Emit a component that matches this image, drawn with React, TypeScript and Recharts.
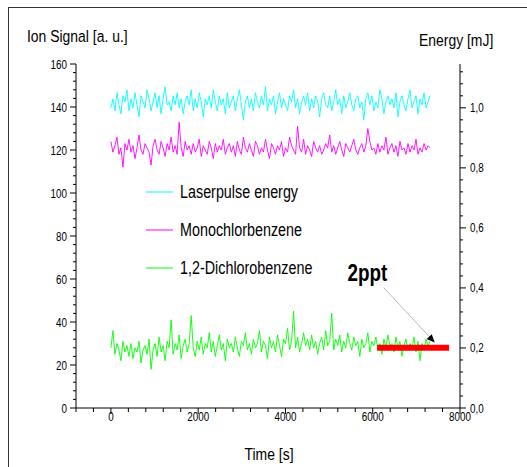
import React from 'react';
import { LineChart, Line, XAxis, YAxis, Legend, ReferenceDot } from 'recharts';

// Laserpulse energy [mJ], right axis
const laserEnergy = [
  1.00, 1.03, 0.99, 1.05, 1.01, 0.98, 1.04, 1.02, 1.06, 0.99,
  1.03, 1.00, 1.05, 1.01, 0.97, 1.04, 1.02, 1.00, 1.06, 1.03,
  0.99, 1.02, 1.05, 1.00, 1.04, 0.98, 1.03, 1.07, 1.01, 1.02,
  0.99, 1.04, 1.01, 1.05, 1.00, 1.03, 0.98, 1.02, 1.04, 1.01,
  1.06, 0.99, 1.03, 1.00, 1.05, 1.02, 0.97, 1.03, 1.01, 1.04,
  1.00, 1.06, 1.02, 0.99, 1.04, 1.01, 1.03, 0.98, 1.05, 1.00,
  1.02, 1.04, 0.99, 1.03, 1.06, 1.01, 0.96, 1.02, 1.04, 1.00,
  1.03, 0.99, 1.05, 1.02, 1.00, 1.04, 1.01, 1.07, 0.99, 1.03,
  1.01, 1.04, 0.98, 1.02, 1.05, 1.00, 1.03, 1.01, 0.99, 1.04,
  1.02, 1.06, 1.00, 1.03, 0.98, 1.02, 1.04, 1.01, 1.05, 0.99,
  1.03, 1.00, 1.04, 1.02, 0.97, 1.03, 1.05, 1.01, 1.00, 1.04,
  0.99, 1.02, 1.06, 1.01, 1.03, 0.98, 1.04, 1.00, 1.02, 1.05,
  1.01, 0.99, 1.03, 1.04, 1.00, 1.02, 0.96, 1.03, 1.05, 1.01,
  1.04, 0.99, 1.02, 1.00, 1.06, 1.03, 0.98, 1.02, 1.04, 1.01,
  1.03, 1.00, 1.05, 0.97, 1.02, 1.04, 1.01, 0.99, 1.03, 1.06,
  1.00, 1.02, 1.04, 0.98, 1.03, 1.01, 1.05, 1.00, 1.02, 1.04,
];

// Monochlorbenzene ion signal [a. u.]
const monochlor = [
  124, 119, 122, 126, 118, 121, 112, 123, 120, 125,
  119, 122, 116, 121, 127, 120, 118, 123, 121, 119,
  113, 122, 125, 120, 118, 124, 121, 117, 123, 120,
  126, 119, 122, 118, 133, 121, 117, 124, 120, 122,
  118, 123, 119, 121, 125, 117, 122, 120, 118, 124,
  121, 116, 123, 119, 122, 120, 125, 118, 121, 123,
  119, 122, 117, 124, 120, 118, 126, 121, 119, 123,
  120, 117, 124, 122, 118, 121, 119, 125, 120, 116,
  123, 121, 118, 122, 120, 124, 117, 121, 119, 126,
  122, 120, 118, 131, 121, 119, 125, 118, 122, 120,
  117, 124, 121, 119, 122, 118, 120, 123, 121, 127,
  119, 122, 118, 121, 124, 120, 117, 123, 121, 119,
  122, 125, 120, 118, 121, 123, 119, 122, 130, 124,
  120, 121, 118, 123, 119, 122, 120, 126, 118, 121,
  123, 119, 122, 117, 124, 120, 121, 118, 123, 119,
  122, 120, 125, 118, 121, 119, 123, 120, 122, 121,
];

// 1,2-Dichlorobenzene ion signal [a. u.]
const dichloro = [
  28, 36, 25, 30, 27, 22, 31, 26, 29, 24,
  30, 23, 28, 26, 31, 21, 27, 29, 25, 32,
  18, 27, 30, 24, 33, 26, 29, 22, 31, 28,
  41, 25, 30, 27, 34, 23, 29, 32, 26, 30,
  43, 28, 24, 31, 27, 33, 25, 30, 28, 35,
  26, 31, 24, 29, 34, 27, 30, 22, 32, 28,
  30, 26, 33, 28, 24, 31, 29, 35, 27, 30,
  25, 32, 28, 30, 36, 26, 31, 29, 23, 33,
  28, 31, 26, 34, 29, 24, 32, 30, 37, 27,
  31, 45, 28, 33, 26, 30, 35, 29, 32, 27,
  34, 28, 31, 25, 30, 33, 27, 36, 29, 31,
  44, 27, 32, 29, 34, 26, 31, 28, 35, 30,
  27, 33, 29, 31, 24, 32, 28, 30, 35, 26,
  31, 29, 33, 27, 30, 25, 32, 28, 34, 29,
  30, 26, 33, 28, 31, 24, 29, 32, 27, 30,
  28, 33, 26, 31, 22, 30, 27, 32, 29, 31,
];

const sampleStep = 46; // seconds between samples

// 2 ppt calibration level and its annotation
const calibBar = [{ t: 6100, v: 28 }, { t: 7750, v: 28 }];
const arrowPath = [{ t: 6250, v: 56 }, { t: 7420, v: 30.5 }];
const annotation = { t: 5880, v: 63, text: '2ppt' };

const seriesNames = ['Laserpulse energy', 'Monochlorbenzene', '1,2-Dichlorobenzene'];

const xMajor = [0, 2000, 4000, 6000, 8000];
const xTicks = [-800, -400, 0, 400, 800, 1200, 1600, 2000, 2400, 2800, 3200, 3600, 4000,
  4400, 4800, 5200, 5600, 6000, 6400, 6800, 7200, 7600, 8000];
const leftMajor = [0, 20, 40, 60, 80, 100, 120, 140, 160];
const rightMajor = [0, 0.2, 0.4, 0.6, 0.8, 1.0];
const leftTicks = Array.from({ length: 41 }, (_, i) => i * 4);
const rightTicks = Array.from({ length: 29 }, (_, i) => Math.round(i * 4) / 100);

const data = laserEnergy.map((e, i) => ({
  t: i * sampleStep,
  energy: e,
  mcb: monochlor[i],
  dcb: dichloro[i],
}));

const FONT = "'Liberation Sans', Arial, sans-serif";

// Arial squeezed to look like Arial Narrow
const NarrowText = ({ x, y, size, anchor = 'start', weight = 'normal', children }: any) => (
  <text
    transform={`translate(${x},${y}) scale(0.82,1)`}
    textAnchor={anchor}
    fontSize={size}
    fontWeight={weight}
    fontFamily={FONT}
    fill="#000"
  >
    {children}
  </text>
);

const XTick = (props: any) => {
  const { x, y, payload } = props;
  const major = xMajor.includes(payload.value);
  return (
    <g>
      <line x1={x} x2={x} y1={y} y2={y + (major ? 6 : 4)} stroke="#000" />
      {major && <NarrowText x={x} y={y + 13} size={12} anchor="middle">{payload.value}</NarrowText>}
    </g>
  );
};

const LeftTick = (props: any) => {
  const { x, y, payload } = props;
  const major = leftMajor.includes(payload.value);
  return (
    <g>
      <line x1={x} x2={x - (major ? 6 : 3)} y1={y} y2={y} stroke="#000" />
      {major && <NarrowText x={x - 9} y={y + 4.5} size={12} anchor="end">{payload.value}</NarrowText>}
    </g>
  );
};

const RightTick = (props: any) => {
  const { x, y, payload } = props;
  const major = rightMajor.some((m) => Math.abs(m - payload.value) < 1e-6);
  return (
    <g>
      <line x1={x} x2={x + (major ? 6 : 3)} y1={y} y2={y} stroke="#000" />
      {major && (
        <NarrowText x={x + 10} y={y + 4.5} size={12}>
          {payload.value.toFixed(1).replace('.', ',')}
        </NarrowText>
      )}
    </g>
  );
};

const ArrowHead = (props: any) => {
  const { cx, cy, index } = props;
  if (index !== arrowPath.length - 1) return <g key={`a${index}`} />;
  return (
    <polygon
      key={`a${index}`}
      points="0,0 -8,-3.5 -8,3.5"
      transform={`translate(${cx},${cy}) rotate(47)`}
      fill="#000"
    />
  );
};

const renderLegend = (props: any) => {
  const items = (props.payload || [])
    .filter((p: any) => seriesNames.includes(p.value))
    .sort((a: any, b: any) => seriesNames.indexOf(a.value) - seriesNames.indexOf(b.value));
  return (
    <svg width={200} height={110}>
      {items.map((p: any, i: number) => (
        <g key={p.value}>
          <line x1={6} x2={33} y1={14 + i * 38} y2={14 + i * 38} stroke={p.color} strokeWidth={1} />
          <NarrowText x={40} y={14 + i * 38 + 6} size={17.5}>{p.value}</NarrowText>
        </g>
      ))}
    </svg>
  );
};

export default function App() {
  return (
    <div style={{ position: 'absolute', left: 0, top: 0, width: 527, height: 467, background: '#fff', fontFamily: FONT }}>
      <LineChart width={527} height={467} data={data} margin={{ top: 64, right: 27, bottom: 29, left: 16 }}>
        <XAxis
          dataKey="t"
          type="number"
          domain={[-800, 8000]}
          ticks={xTicks}
          interval={0}
          tickSize={0}
          tickMargin={0}
          tickLine={false}
          tick={<XTick />}
          stroke="#000"
          height={30}
        />
        <YAxis
          yAxisId="left"
          domain={[0, 160]}
          ticks={leftTicks}
          interval={0}
          tickSize={0}
          tickMargin={0}
          tickLine={false}
          tick={<LeftTick />}
          stroke="#000"
          width={60}
        />
        <YAxis
          yAxisId="right"
          orientation="right"
          domain={[0, 1.146]}
          ticks={rightTicks}
          interval={0}
          tickSize={0}
          tickMargin={0}
          tickLine={false}
          tick={<RightTick />}
          stroke="#000"
          width={40}
        />
        <Legend
          layout="vertical"
          align="center"
          verticalAlign="middle"
          content={renderLegend}
          wrapperStyle={{ left: 140, top: 178, width: 200, height: 110 }}
        />
        <Line
          yAxisId="right"
          dataKey="energy"
          name="Laserpulse energy"
          stroke="#00ffff"
          strokeWidth={0.9}
          dot={false}
          isAnimationActive={false}
        />
        <Line
          yAxisId="left"
          dataKey="mcb"
          name="Monochlorbenzene"
          stroke="#ff00ff"
          strokeWidth={0.9}
          dot={false}
          isAnimationActive={false}
        />
        <Line
          yAxisId="left"
          dataKey="dcb"
          name="1,2-Dichlorobenzene"
          stroke="#00ff00"
          strokeWidth={0.9}
          dot={false}
          isAnimationActive={false}
        />
        <Line
          yAxisId="left"
          data={calibBar}
          dataKey="v"
          name="calib"
          legendType="none"
          stroke="#ff0000"
          strokeWidth={6}
          dot={false}
          isAnimationActive={false}
        />
        <Line
          yAxisId="left"
          data={arrowPath}
          dataKey="v"
          name="arrow"
          legendType="none"
          stroke="#aaa"
          strokeWidth={0.8}
          dot={ArrowHead}
          isAnimationActive={false}
        />
        <ReferenceDot
          yAxisId="left"
          x={annotation.t}
          y={annotation.v}
          r={0}
          shape={(p: any) => (
            <NarrowText x={p.cx} y={p.cy + 8} size={23} anchor="middle" weight="bold">
              {annotation.text}
            </NarrowText>
          )}
        />
      </LineChart>
      <svg width={527} height={467} style={{ position: 'absolute', left: 0, top: 0, pointerEvents: 'none' }}>
        <line x1={8.5} x2={8.5} y1={7} y2={467} stroke="#333" />
        <line x1={8} x2={527} y1={7.5} y2={7.5} stroke="#333" />
        <NarrowText x={27} y={42} size={17}>Ion Signal [a. u.]</NarrowText>
        <NarrowText x={419} y={46} size={17}>Energy [mJ]</NarrowText>
        <NarrowText x={269} y={460} size={17} anchor="middle">Time [s]</NarrowText>
      </svg>
    </div>
  );
}
